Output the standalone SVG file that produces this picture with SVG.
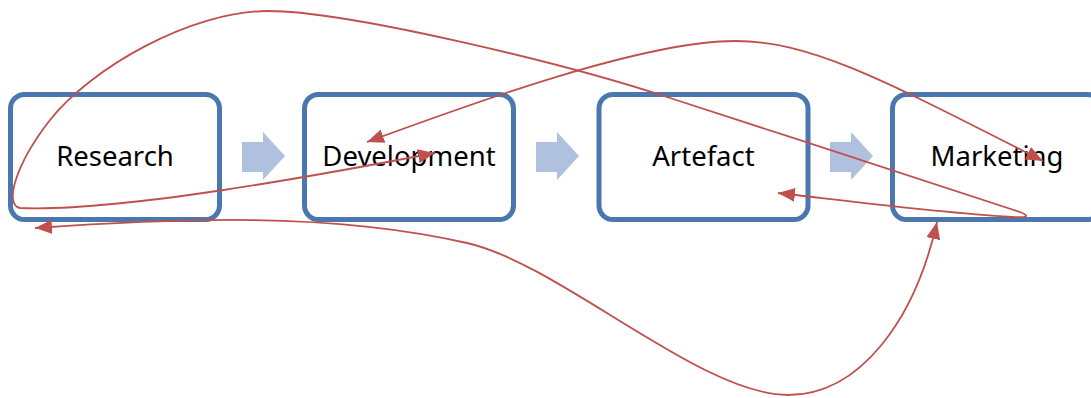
<svg xmlns="http://www.w3.org/2000/svg" width="1091" height="398" viewBox="0 0 1091 398">
  <defs>
    <style>
      .box { fill: #ffffff; stroke: #4A77AE; stroke-width: 5; }
      .label { font-family: "Noto Sans", "Open Sans", sans-serif; font-size: 27.5px; fill: #000000; text-anchor: middle; }
      .step { fill: #AFC1DE; }
      .link { fill: none; stroke: #C0504D; stroke-width: 1.8; marker-start: url(#head); marker-end: url(#head); }
    </style>
    <marker id="head" markerUnits="userSpaceOnUse" markerWidth="17" markerHeight="14" refX="17" refY="7" orient="auto-start-reverse" viewBox="0 0 17 14">
      <path d="M0,0 L17,7 L0,14 Z" fill="#C0504D"/>
    </marker>
  </defs>

  <rect width="1091" height="398" fill="#ffffff"/>

  <!-- process steps -->
  <g id="research">
    <rect class="box" x="10.5" y="94.5" width="209" height="125" rx="14"/>
    <text class="label" x="115" y="166">Research</text>
  </g>
  <g id="development">
    <rect class="box" x="304.5" y="94.5" width="209" height="125" rx="14"/>
    <text class="label" x="409" y="166">Development</text>
  </g>
  <g id="artefact">
    <rect class="box" x="599" y="94.5" width="209" height="125" rx="14"/>
    <text class="label" x="703.5" y="166">Artefact</text>
  </g>
  <g id="marketing">
    <rect class="box" x="892.5" y="94.5" width="209" height="125" rx="14"/>
    <text class="label" x="997" y="166">Marketing</text>
  </g>

  <!-- block arrows between steps -->
  <g id="flow">
    <path class="step" d="M242,142 H263 V132 L285,156 L263,180 V172 H242 Z"/>
    <path class="step" d="M536,142 H557 V132 L579,156 L557,180 V172 H536 Z"/>
    <path class="step" d="M830,142 H851 V132 L873,156 L851,180 V172 H830 Z"/>
  </g>

  <!-- feedback connectors -->
  <g id="connectors">
    <!-- Development <-> Artefact, looping round Research and Marketing -->
    <path class="link" d="M435,153 C320,175 120,212 20,208 C4,205 15,165 50,120 C90,69 190,11 268,11 C346,11 560,62 667,97 C790,137 1000,205 1020,212 C1030,216 1028,218 1012,217 C930,212 840,200 778,193"/>
    <!-- Development <-> Marketing over the top -->
    <path class="link" d="M367,142 C460,108 640,41 735,41 C810,41 880,78 1043,161"/>
    <!-- Research <-> Marketing underneath -->
    <path class="link" d="M35,228 C180,218 330,212 467,243 C560,264 700,395 788,395 C860,395 915,320 937,222"/>
  </g>
</svg>
